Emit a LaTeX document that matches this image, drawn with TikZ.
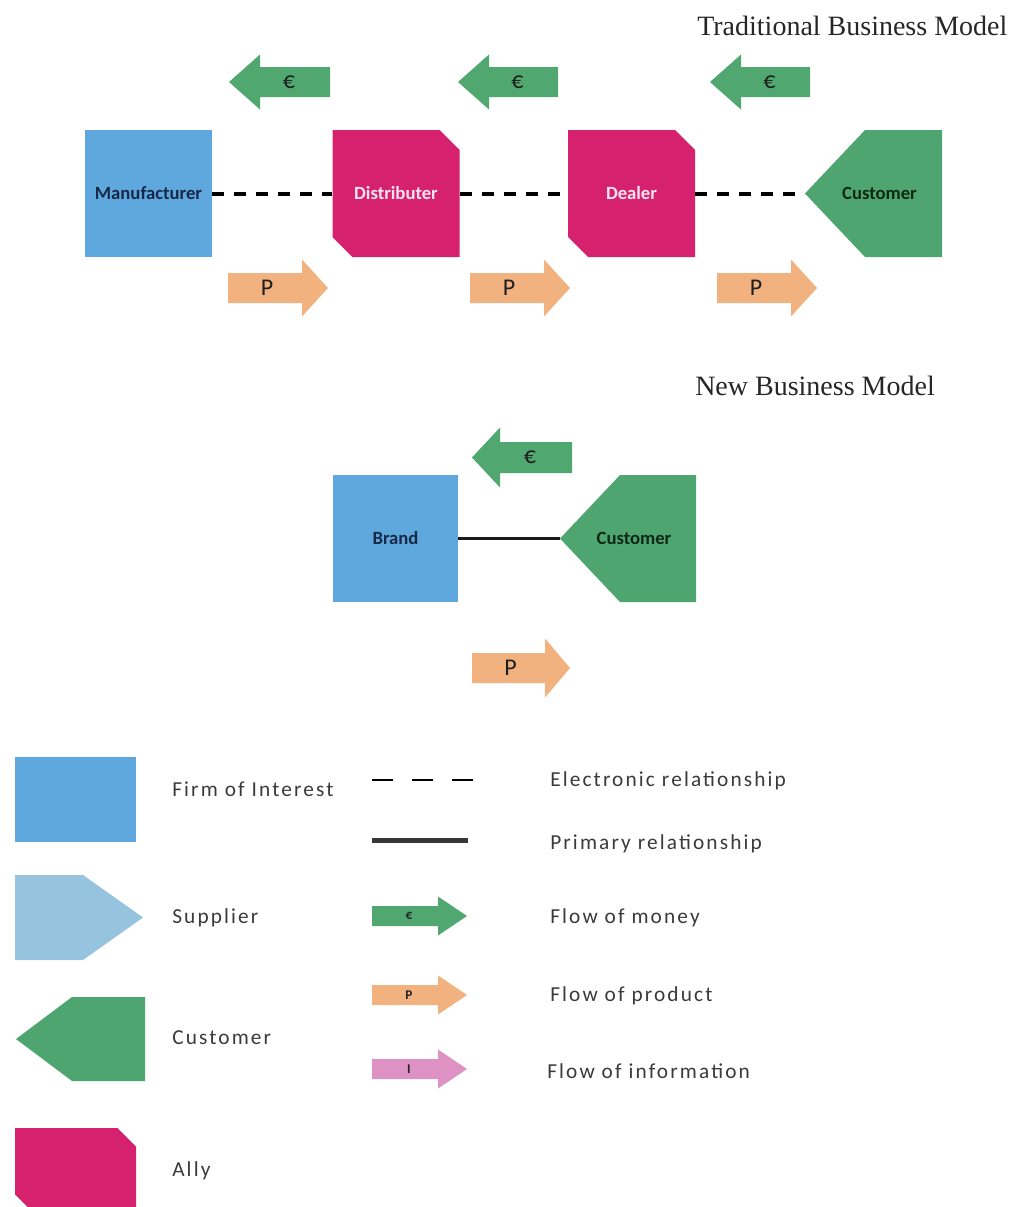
\documentclass[tikz,border=0pt]{standalone}
\usepackage{fontspec}
\setmainfont{Carlito}
\newfontfamily\titlefont{Liberation Serif}
\newfontfamily\legendfont[LetterSpace=10]{Carlito}
\usetikzlibrary{calc}

\definecolor{firmblue}{RGB}{94,168,221}
\definecolor{suppblue}{RGB}{150,196,222}
\definecolor{custgreen}{RGB}{78,165,111}
\definecolor{allymag}{RGB}{213,33,110}
\definecolor{moneygreen}{RGB}{80,168,112}
\definecolor{prodpeach}{RGB}{242,178,128}
\definecolor{infopink}{RGB}{222,146,196}
\definecolor{navytext}{RGB}{24,40,72}
\definecolor{palepink}{RGB}{252,228,240}
\definecolor{darkgreentext}{RGB}{14,40,22}
\definecolor{legendgray}{RGB}{58,58,58}

\tikzset{
  % boxes: sizes are given in pt (1 px = 0.75 pt)
  boxlabel/.style={inner sep=0pt, font=\bfseries\fontsize{14}{16}\selectfont},
  firmbox/.style={boxlabel, fill=firmblue, text=navytext},
  allybox/.style={boxlabel, fill=white, text=palepink,
    path picture={
      \fill[allymag] (path picture bounding box.north west)
        -- ([xshift=-\chamfer]path picture bounding box.north east)
        -- ([yshift=-\chamfer]path picture bounding box.north east)
        -- (path picture bounding box.south east)
        -- ([xshift=\chamfer]path picture bounding box.south west)
        -- ([yshift=\chamfer]path picture bounding box.south west) -- cycle;}},
  custbox/.style={boxlabel, fill=white, text=darkgreentext,
    path picture={
      \fill[custgreen] (path picture bounding box.west)
        -- ([xshift=\tipdepth]path picture bounding box.north west)
        -- (path picture bounding box.north east)
        -- (path picture bounding box.south east)
        -- ([xshift=\tipdepth]path picture bounding box.south west) -- cycle;}},
  suppbox/.style={boxlabel, fill=white,
    path picture={
      \fill[suppblue] (path picture bounding box.north west)
        -- ([xshift=-\tipdepth]path picture bounding box.north east)
        -- (path picture bounding box.east)
        -- ([xshift=-\tipdepth]path picture bounding box.south east)
        -- (path picture bounding box.south west) -- cycle;}},
  elink/.style={line width=3pt, dash pattern=on 9pt off 7.5pt, black},
  plink/.style={line width=2.2pt, black!90},
  flowlabel/.style={inner sep=0pt, font=\fontsize{18}{20}\selectfont, text=black!88},
  smalllabel/.style={inner sep=0pt, font=\bfseries\fontsize{10}{12}\selectfont, text=black!85},
  legendtext/.style={inner sep=0pt, anchor=west, font=\legendfont\fontsize{16}{18}\selectfont, text=legendgray},
  titletext/.style={inner sep=0pt, anchor=base west, font=\titlefont\fontsize{21}{24}\selectfont, text=black!85}
}
\newcommand\chamfer{15pt}
\newcommand\tipdepth{45pt}

% left-pointing block arrow: name, colour, tip x, right x, y, head length, body half, head half, label
\newcommand\flowleft[9]{%
  \fill[#2] (#3,#5) -- (#3+#6,#5-#8) -- (#3+#6,#5-#7) -- (#4,#5-#7)
    -- (#4,#5+#7) -- (#3+#6,#5+#7) -- (#3+#6,#5+#8) -- cycle;
  \node[flowlabel] (#1) at ({(#3+#6+#4)/2-6},#5) {#9};}
% right-pointing block arrow: name, colour, left x, tip x, y, head length, body half, head half, label
\newcommand\flowright[9]{%
  \fill[#2] (#4,#5) -- (#4-#6,#5-#8) -- (#4-#6,#5-#7) -- (#3,#5-#7)
    -- (#3,#5+#7) -- (#4-#6,#5+#7) -- (#4-#6,#5+#8) -- cycle;
  \node[flowlabel] (#1) at ({(#3+#4-#6)/2+2},#5) {#9};}
% small legend arrow: name, colour, y, label, label colour
\newcommand\legendarrow[5]{%
  \fill[#2] (467,#3) -- (438,#3-19.5) -- (438,#3-10) -- (372,#3-10)
    -- (372,#3+10) -- (438,#3+10) -- (438,#3+19.5) -- cycle;
  \node[smalllabel, text=#5] (#1) at (409,#3) {#4};}

\begin{document}
\begin{tikzpicture}[x=0.75pt, y=-0.75pt]
\useasboundingbox (0,0) rectangle (1018,1207);
\clip (0,0) rectangle (1018,1207);

% ---------- traditional business model ----------
\node[titletext] (ttrad) at (697,35) {Traditional Business Model};

\flowleft{m1}{moneygreen}{229}{330}{82}{31}{15}{27.5}{€}
\flowleft{m2}{moneygreen}{458}{558}{82}{31}{15}{27.5}{€}
\flowleft{m3}{moneygreen}{710}{810}{82}{31}{15}{27.5}{€}

\node[firmbox, minimum width=95.25pt, minimum height=95.25pt] (mfr) at (148.5,193.5) {Manufacturer};
\node[allybox, minimum width=95.25pt, minimum height=95.25pt] (dist) at (396,193.5) {Distributer};
\node[allybox, minimum width=95.25pt, minimum height=95.25pt] (deal) at (631.5,193.5) {Dealer};
\node[custbox, minimum width=102.75pt, minimum height=95.25pt] (cust) at (873.5,193.5) {\hspace*{9pt}Customer};

\draw[elink] (mfr.east) -- (dist.west);
\draw[elink] (dist.east) -- (deal.west);
\draw[elink] (deal.east) -- (cust.west);

\flowright{p1}{prodpeach}{228}{328}{288}{26}{15}{28.5}{P}
\flowright{p2}{prodpeach}{470}{570}{288}{26}{15}{28.5}{P}
\flowright{p3}{prodpeach}{717}{817}{288}{26}{15}{28.5}{P}

% ---------- new business model ----------
\node[titletext] (tnew) at (695,395) {New Business Model};

\flowleft{m4}{moneygreen}{472}{572}{457.5}{28}{15.5}{30}{€}

\node[firmbox, minimum width=93.75pt, minimum height=95.25pt] (brand) at (395.5,538.5) {Brand};
\node[custbox, minimum width=102pt, minimum height=95.25pt] (cust2) at (628,538.5) {\hspace*{9pt}Customer};
\draw[plink] (brand.east) -- (cust2.west);

\flowright{p4}{prodpeach}{472}{570}{668}{25}{15}{29.5}{P}

% ---------- legend: shapes ----------
\node[firmbox, minimum width=90.75pt, minimum height=63.75pt] (lfirm) at (75.5,799.5) {};
\node[suppbox, minimum width=96pt, minimum height=63.75pt] (lsupp) at (79,917.5) {};
\begingroup\renewcommand\tipdepth{42pt}
\node[custbox, minimum width=96.75pt, minimum height=63pt] (lcust) at (80.5,1039) {};
\endgroup
\begingroup\renewcommand\chamfer{14pt}
\node[allybox, minimum width=90.75pt, minimum height=63.75pt] (lally) at (75.5,1170.5) {};
\endgroup

\node[legendtext] (tfirm) at (172,789) {Firm of Interest};
\node[legendtext, anchor=base west] (tsupp) at (172,923) {Supplier};
\node[legendtext] (tcust) at (172,1038) {Customer};
\node[legendtext, anchor=base west] (tally) at (172,1176) {Ally};

% ---------- legend: relationships and flows ----------
\draw[line width=2.2pt, black, dash pattern=on 15.75pt off 14.25pt] (372,780) -- (473,780);
\draw[line width=3.75pt, black!78] (372,840) -- (468,840);
\legendarrow{lm}{moneygreen}{916}{€}{black!85}
\legendarrow{lp}{prodpeach}{995}{P}{black!85}
\legendarrow{li}{infopink}{1069}{I}{black!85}

\node[legendtext] (telec) at (550,781) {Electronic relationship};
\node[legendtext, anchor=base west] (tprim) at (550,849) {Primary relationship};
\node[legendtext] (tmoney) at (550,918) {Flow of money};
\node[legendtext, anchor=base west] (tprod) at (550,1001) {Flow of product};
\node[legendtext] (tinfo) at (547,1071) {Flow of information};
\end{tikzpicture}
\end{document}
